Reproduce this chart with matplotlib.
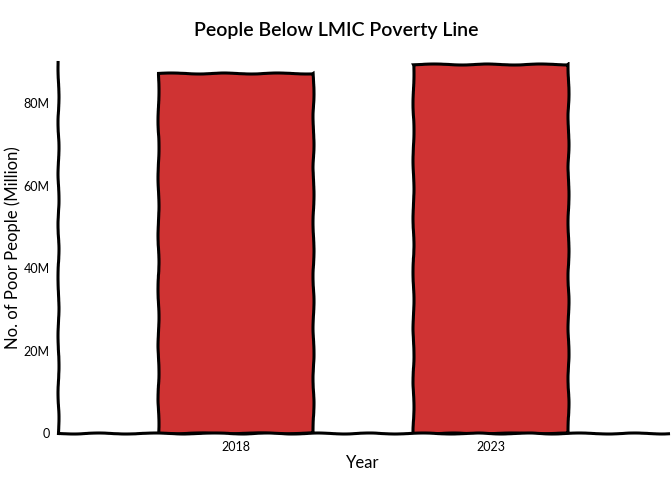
import matplotlib
matplotlib.use("Agg")
import matplotlib.pyplot as plt

# data
years = ["2018", "2023"]
poor_people = [87.3e6, 89.5e6]
yticks = [0, 20e6, 40e6, 60e6, 80e6]
ytick_labels = ["0", "20M", "40M", "60M", "80M"]

plt.xkcd(scale=0.5, length=60, randomness=2)
plt.rcParams["font.family"] = ["Lato", "DejaVu Sans"]
plt.rcParams["path.effects"] = []

fig = plt.figure(figsize=(6.72, 4.98), dpi=100)
ax = fig.add_axes([0.0863, 0.1305, 0.9077, 0.745])

x = range(len(years))
ax.bar(x, poor_people, width=0.608, color="#cf3333",
       edgecolor="black", linewidth=2.2)

ax.set_xlim(-0.696, 1.696)
ax.set_ylim(0, 90e6)
ax.set_xticks(list(x))
ax.set_xticklabels(years, fontsize=9)
ax.set_yticks(yticks)
ax.set_yticklabels(ytick_labels, fontsize=9)
ax.tick_params(length=0, pad=6)

for side in ("top", "right"):
    ax.spines[side].set_visible(False)
for side in ("left", "bottom"):
    ax.spines[side].set_linewidth(2.2)

ax.set_xlabel("Year", fontsize=12)
ax.xaxis.set_label_coords(0.5, -0.058)
ax.set_ylabel("No. of Poor People (Million)", fontsize=12)
ax.yaxis.set_label_coords(-0.06, 0.5)
fig.suptitle("People Below LMIC Poverty Line", fontsize=14,
             fontweight="semibold", y=0.955)

fig.savefig("out.png", dpi=100)
